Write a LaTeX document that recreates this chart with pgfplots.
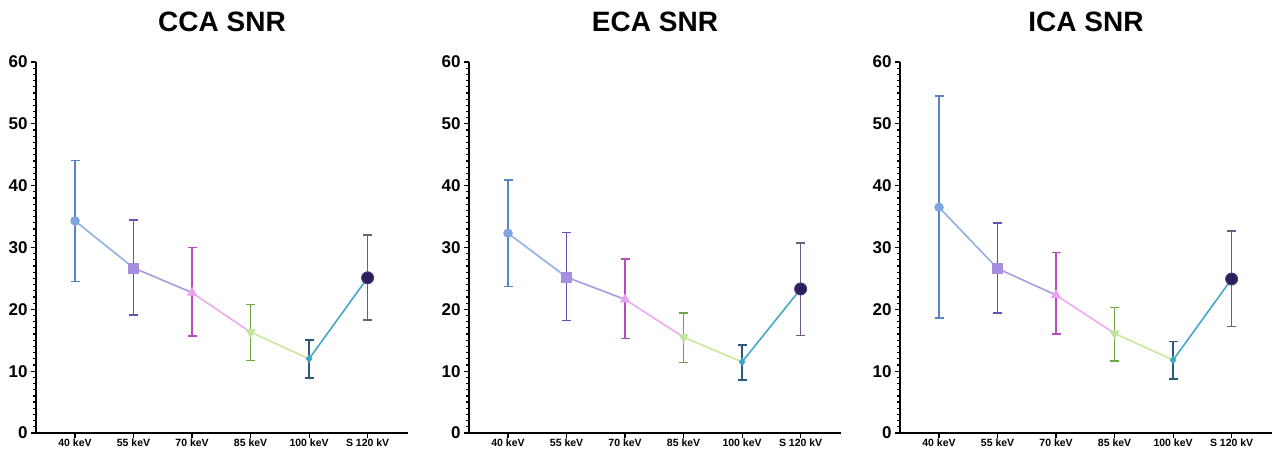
\documentclass[border=0pt]{standalone}
\usepackage{pgfplots}
\pgfplotsset{compat=1.18}
\usepackage{pgfplotstable}
\usepackage{fontspec}
\setmainfont{Liberation Sans}

% marker, error bar and segment colours
\definecolor{m0}{HTML}{7EA6DD}\definecolor{e0}{HTML}{5A82C6}\definecolor{l0}{HTML}{8FB0E4}
\definecolor{m1}{HTML}{A58EDE}\definecolor{e1}{HTML}{6E4FB5}\definecolor{l1}{HTML}{A99AE0}
\definecolor{m2}{HTML}{E9A3EE}\definecolor{e2}{HTML}{B54BBD}\definecolor{l2}{HTML}{EFA8F2}
\definecolor{m3}{HTML}{C2E3A0}\definecolor{e3}{HTML}{6EA646}\definecolor{l3}{HTML}{C8E89C}
\definecolor{m4}{HTML}{3DA4C4}\definecolor{e4}{HTML}{2B5A78}\definecolor{l4}{HTML}{45A8C8}
\definecolor{m5}{HTML}{2C1F5A}\definecolor{e5}{HTML}{6D5C82}\definecolor{d5}{HTML}{4A3D80}

% x y ep em  (mean, +error, -error)
\pgfplotstableread{
x y ep em
0 34.3 9.8 9.8
1 26.7 7.7 7.6
2 22.7 7.3 7.0
3 16.3 4.5 4.6
4 12.0 3.0 3.1
5 25.1 6.9 6.8
}\cca
\pgfplotstableread{
x y ep em
0 32.3 8.6 8.6
1 25.2 7.2 7.0
2 21.6 6.5 6.3
3 15.5 3.9 4.1
4 11.5 2.7 2.9
5 23.3 7.4 7.5
}\eca
\pgfplotstableread{
x y ep em
0 36.5 18.0 17.9
1 26.6 7.4 7.2
2 22.3 6.9 6.3
3 16.1 4.2 4.5
4 11.8 3.0 3.1
5 24.9 7.8 7.7
}\ica

\pgfplotsset{
  snr/.style={
    scale only axis, width=372pt, height=371pt, anchor=south west,
    xmin=-0.667, xmax=5.69, ymin=0, ymax=60, clip=false,
    axis x line*=bottom, axis y line*=left,
    axis line style={line width=1.6pt, black, -},
    xtick={0,...,5},
    xticklabels={40 keV,55 keV,70 keV,85 keV,100 keV,S 120 kV},
    ytick={0,10,...,60}, minor y tick num=9,
    tick align=outside, major tick length=5pt, minor tick length=3pt,
    every tick/.style={line width=1.2pt, black},
    /pgf/number format/assume math mode=true,
    yticklabel style={font=\fontsize{17}{18}\selectfont\bfseries},
    xticklabel style={font=\fontsize{10.5}{12}\selectfont\bfseries, yshift=3pt},
    title style={font=\fontsize{28}{30}\selectfont\bfseries,
      at={(0.5,1)}, anchor=base, yshift=25pt},
  },
  eb/.style={/pgfplots/error bars/y dir=both, /pgfplots/error bars/y explicit,
    /pgfplots/error bars/error bar style={line width=1.6pt, color=#1, solid},
    /pgfplots/error bars/error mark options={rotate=90, mark size=4.5pt, line width=1.6pt, color=#1}},
  seg/.style={no markers, line width=1.6pt, color=#1},
}

\newcommand\snrpanel[3]{%
\begin{axis}[snr, at={(#2,18pt)}, title={#3}]
  \addplot[only marks, mark=*, mark size=4.5pt, color=m0, eb=e0,
    restrict x to domain=0:0]
    table[x=x, y=y, y error plus=ep, y error minus=em]{#1};
  \addplot[only marks, mark=square*, mark size=5pt, color=m1, eb=e1,
    restrict x to domain=1:1]
    table[x=x, y=y, y error plus=ep, y error minus=em]{#1};
  \addplot[only marks, mark=triangle*, mark size=5.5pt, color=m2, eb=e2,
    restrict x to domain=2:2]
    table[x=x, y=y, y error plus=ep, y error minus=em]{#1};
  \addplot[only marks, mark=triangle*, mark size=5.5pt, mark options={rotate=180}, color=m3, eb=e3,
    restrict x to domain=3:3]
    table[x=x, y=y, y error plus=ep, y error minus=em]{#1};
  \addplot[only marks, mark=diamond*, mark size=4pt, color=m4, eb=e4,
    restrict x to domain=4:4]
    table[x=x, y=y, y error plus=ep, y error minus=em]{#1};
  \addplot[only marks, mark=*, mark size=6pt, mark options={fill=m5, draw=d5, line width=1pt}, color=m5, eb=e5,
    restrict x to domain=5:5]
    table[x=x, y=y, y error plus=ep, y error minus=em]{#1};
  \addplot[seg=l0, restrict x to domain=0:1] table[x=x, y=y]{#1};
  \addplot[seg=l1, restrict x to domain=1:2] table[x=x, y=y]{#1};
  \addplot[seg=l2, restrict x to domain=2:3] table[x=x, y=y]{#1};
  \addplot[seg=l3, restrict x to domain=3:4] table[x=x, y=y]{#1};
  \addplot[seg=l4, restrict x to domain=4:5] table[x=x, y=y]{#1};
\end{axis}}

\begin{document}
\begin{tikzpicture}
\useasboundingbox (0,0) rectangle (1272pt,451pt);
\snrpanel{\cca}{36pt}{CCA SNR}
\snrpanel{\eca}{469pt}{ECA SNR}
\snrpanel{\ica}{900pt}{ICA SNR}
\end{tikzpicture}
\end{document}
